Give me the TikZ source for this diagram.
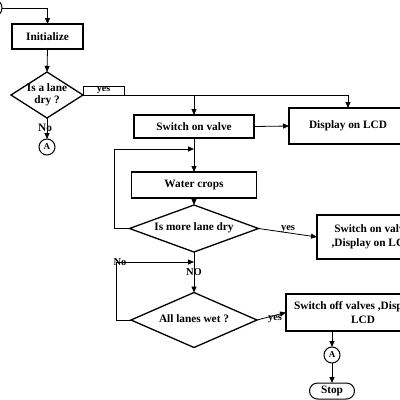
\documentclass[tikz,border=0pt]{standalone}
\usepackage{fontspec}
\setmainfont{Liberation Serif}
\usetikzlibrary{shapes.geometric,arrows.meta}
\tikzset{
  txt/.style={font=\fontsize{11.3}{13.5}\selectfont\bfseries, align=center, inner sep=0pt},
  boxn/.style={draw, line width=1.4pt, rectangle, inner sep=0pt, outer sep=0pt, txt},
  dia/.style={draw, line width=1.3pt, diamond, inner sep=0pt, outer sep=0pt},
  conn/.style={draw, circle, line width=1pt, minimum size=16pt, inner sep=0pt, outer sep=0pt, font=\fontsize{9}{10}\selectfont\bfseries},
  arr/.style={line width=0.8pt, -{Triangle[length=6pt,width=5pt]}},
  lbl/.style={font=\fontsize{10.5}{12}\selectfont\bfseries, inner sep=0pt}
}
\begin{document}
\begin{tikzpicture}[x=1pt,y=-1pt]
\useasboundingbox (0,0) rectangle (400,400);
\clip (0,0) rectangle (400,400);
\fill[white] (0,0) rectangle (400,400);

% start terminal (cut off at the left edge)
\node[draw, circle, line width=1pt, minimum size=18pt, inner sep=0pt, outer sep=0pt] (start) at (-7,8) {};

% nodes
\node[boxn, minimum width=71pt, minimum height=25pt] (init) at (47.5,36.5) {Initialize};
\node[dia, minimum width=72pt, minimum height=46pt] (d1) at (47,95) {};
\node[txt] (d1t) at (47,95) {Is a lane\\[-1pt]dry ?};
\node[draw, line width=0.9pt, minimum width=41pt, minimum height=9pt, inner sep=0pt, outer sep=0pt, font=\fontsize{10}{10}\selectfont\bfseries] (yesbox) at (103.5,90.5) {yes};
\node[txt] (no1) at (45,128) {No};
\node[conn] (A1) at (47,147) {A};

\node[boxn, minimum width=120pt, minimum height=23pt] (sov) at (194,126.5) {Switch on valve};
\node[boxn, minimum width=118pt, minimum height=36pt] (lcd) at (348,126) {Display on LCD};

\node[boxn, minimum width=125pt, minimum height=26pt] (wc) at (194,185) {Water crops};
\node[dia, minimum width=129pt, minimum height=47pt] (d2) at (194,228.5) {};
\node[txt] (d2t) at (194,228) {Is more lane dry};

\node[boxn, minimum width=110pt, minimum height=44pt] (sovd) at (372,237) {Switch on valve\\,Display on LCD};

\node[dia, minimum width=126pt, minimum height=55pt] (d3) at (194,320) {};
\node[txt] (d3t) at (194,319) {All lanes wet ?};

\node[boxn, minimum width=154pt, minimum height=37pt] (sod) at (363,312.5) {Switch off valves ,Display on\\LCD};
\node[conn] (A2) at (332,355) {A};
\node[draw, rounded corners=8pt, line width=1pt, minimum width=45pt, minimum height=16pt, inner sep=0pt, outer sep=0pt, txt] (stop) at (332,391) {Stop};

% junction coordinates
\coordinate (br) at (194,95);
\coordinate (j1) at (194,149);
\coordinate (j2) at (194,262);

% connectors
\draw[arr] (start.east) -| (init.north);
\draw[arr] (init.south) -- (d1.north);
\draw[arr] (d1.south) -- (A1.north);
\draw[arr] (d1.east) -| (lcd.north);
\draw[arr] (br) -- (sov.north);
\draw[arr] (sov.east) -- (lcd.west);
\draw[arr] (sov.south) -- (wc.north);
\draw[arr] (d2.west) -- ++(-15,0) |- (j1);
\draw[arr] (wc.south) -- (d2.north);
\draw[arr] (d2.east) -- (sovd.west);
\draw[arr] (d2.south) -- (d3.north);
\draw[arr] (d3.west) -- ++(-15,0) |- (j2);
\draw[arr] (d3.east) -- (sod.west);
\draw[arr] (A2 |- sod.south) -- (A2.north);
\draw[arr] (A2.south) -- (stop.north);

% labels on connectors
\node[lbl] (yes2) at (288,229) {yes};
\node[lbl] (NO) at (194,272) {NO};
\node[lbl] (no2) at (120,262) {No};
\node[lbl] (yes3) at (275,319) {yes};
\end{tikzpicture}
\end{document}
